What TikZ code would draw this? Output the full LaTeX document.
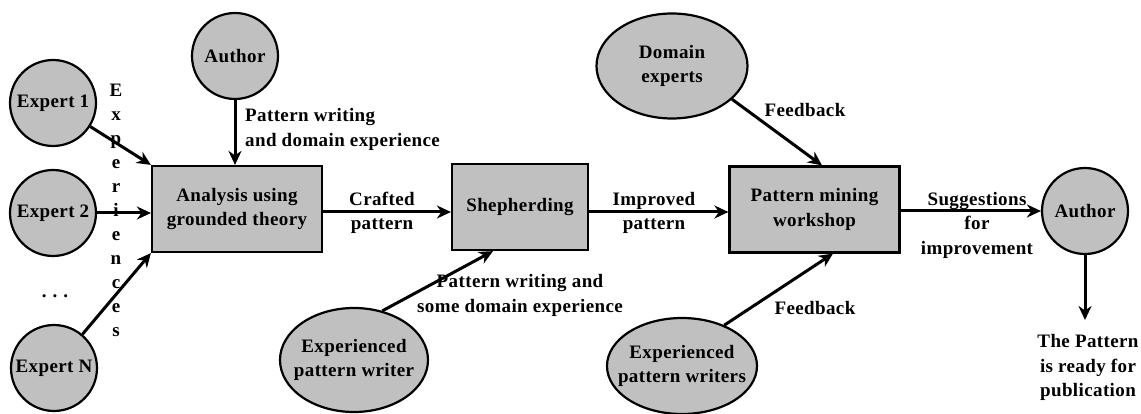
\documentclass[tikz,border=0pt]{standalone}
\usepackage{fontspec}
\setmainfont{Liberation Serif}[LetterSpace=2]
\usetikzlibrary{arrows.meta,shapes.geometric}
\definecolor{nodegray}{RGB}{192,192,192}
\begin{document}
\begin{tikzpicture}[x=1pt,y=-1pt,
  every node/.style={font=\fontsize{19}{24.5}\selectfont\bfseries, align=center, inner sep=0pt},
  actor/.style={circle, draw=black, line width=2.2pt, fill=nodegray, minimum size=86pt},
  group/.style={ellipse, draw=black, line width=2.2pt, fill=nodegray, inner xsep=-30pt, inner ysep=-4pt},
  proc/.style={rectangle, draw=black, line width=2.2pt, fill=nodegray, minimum height=86pt},
  flow/.style={line width=3pt, -{Stealth[length=14pt,width=13pt,inset=4.5pt]}}
]
\useasboundingbox (0,0) rectangle (1141,414);
\fill[white] (0,0) rectangle (1141,414);

% nodes
\node[actor] (e1) at (53,103) {Expert 1};
\node[actor] (e2) at (53,213) {Expert 2};
\node[anchor=base] (dots) at (55,298) {.\hspace{6pt}.\hspace{6pt}.};
\node[actor] (eN) at (54,368) {Expert N};
\node[proc, minimum width=170pt] (an) at (237,209) {Analysis using\\grounded theory};
\node[actor] (au1) at (235,56) {Author};
\node[proc, minimum width=136pt] (sh) at (520,207) {Shepherding};
\node[proc, minimum width=170pt] (pm) at (814.5,209.5) {Pattern mining\\workshop};
\node[actor] (au2) at (1085,211) {Author};
\node[group, minimum width=148pt, minimum height=104pt] (epw) at (354,360) {Experienced\\pattern writer};
\node[group, minimum width=151pt, minimum height=105pt] (de) at (672,66) {Domain\\experts};
\node[group, minimum width=150pt, minimum height=96pt] (epws) at (682,366) {Experienced\\pattern writers};
\node (ready) at (1088,367.5) {The Pattern\\is ready for\\publication};
\coordinate (done) at (1085,320);
\coordinate (mid) at (0,212);

% vertical label
\foreach \c [count=\i from 0] in {E,x,p,e,r,i,e,n,c,e,s}
  \node[anchor=base] (exp\i) at (116,{96.5+24*\i}) {\c};

% connectors
\draw[flow] (e1) -- (an.north west);
\draw[flow] (e2) -- (an.west |- e2);
\draw[flow] (eN) -- (an.south west);
\draw[flow] (au1) -- (au1 |- an.north);
\draw[flow] (an.east |- mid) -- (sh.west |- mid);
\draw[flow] (sh.east |- mid) -- (pm.west |- mid);
\draw[flow] (pm.east |- au2) -- (au2);
\draw[flow] (epw.60) -- ([xshift=-27pt]sh.south);
\draw[flow] (de.-29) -- ([xshift=7.5pt]pm.north);
\draw[flow] (epws.44) -- ([xshift=18.5pt]pm.south);
\draw[flow] (au2) -- (done);

% labels
\node[anchor=west, align=left] (lab1) at (245,129.5) {Pattern writing\\and domain experience};
\node (lab2) at (382,213) {Crafted\\pattern};
\node (lab3) at (654,213) {Improved\\pattern};
\node (lab4) at (520,295.5) {Pattern writing and\\some domain experience};
\node (fb1) at (805,110) {Feedback};
\node (fb2) at (815,308) {Feedback};
\node (lab5) at (977,225) {Suggestions\\for\\improvement};
\end{tikzpicture}
\end{document}
